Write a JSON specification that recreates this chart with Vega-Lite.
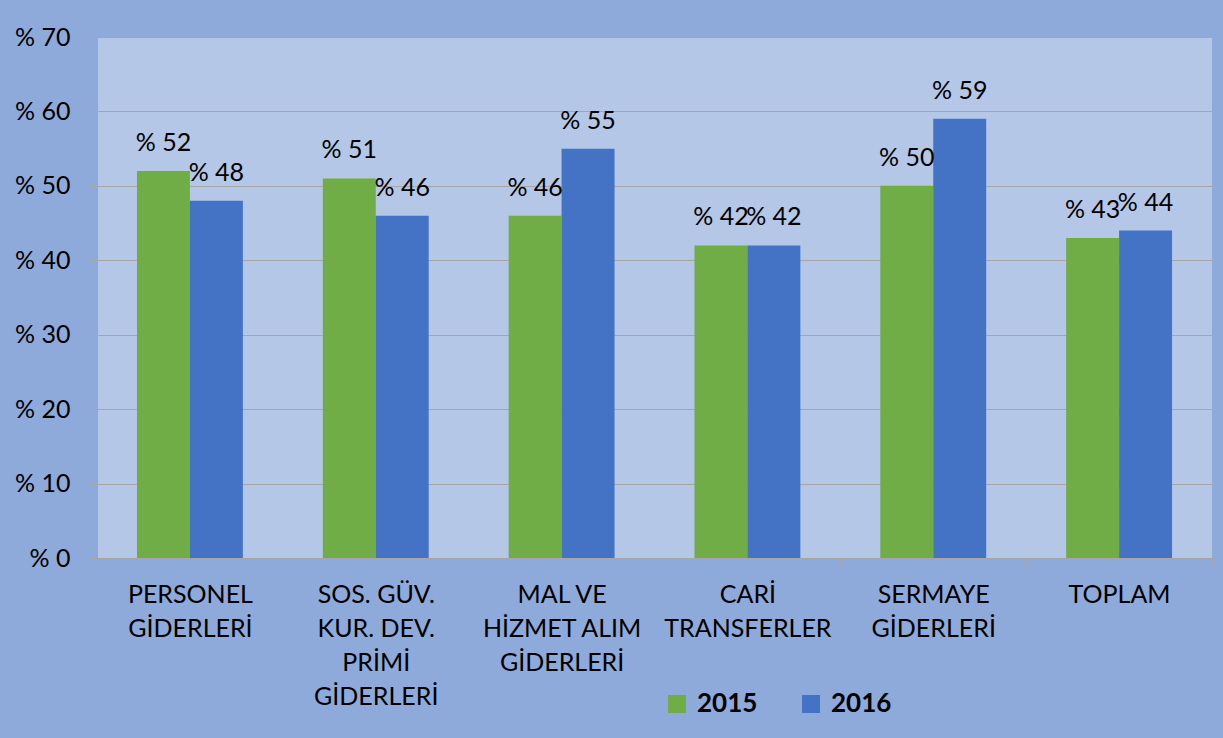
{
  "$schema": "https://vega.github.io/schema/vega-lite/v6.json",
  "autosize": "none",
  "width": 1115,
  "height": 521,
  "padding": {"left": 97, "top": 37, "right": 11, "bottom": 180},
  "background": "#8EAADB",
  "config": {
    "view": {"fill": "#B4C7E7", "stroke": null},
    "font": "Lato",
    "axis": {"labelFont": "Lato", "labelFontSize": 25, "labelColor": "#000000"}
  },
  "data": {
    "values": [
      {"kategori": "PERSONEL|GİDERLERİ", "yil": "2015", "oran": 52},
      {"kategori": "PERSONEL|GİDERLERİ", "yil": "2016", "oran": 48},
      {"kategori": "SOS. GÜV.|KUR. DEV.|PRİMİ|GİDERLERİ", "yil": "2015", "oran": 51},
      {"kategori": "SOS. GÜV.|KUR. DEV.|PRİMİ|GİDERLERİ", "yil": "2016", "oran": 46},
      {"kategori": "MAL VE|HİZMET ALIM|GİDERLERİ", "yil": "2015", "oran": 46},
      {"kategori": "MAL VE|HİZMET ALIM|GİDERLERİ", "yil": "2016", "oran": 55},
      {"kategori": "CARİ|TRANSFERLER", "yil": "2015", "oran": 42},
      {"kategori": "CARİ|TRANSFERLER", "yil": "2016", "oran": 42},
      {"kategori": "SERMAYE|GİDERLERİ", "yil": "2015", "oran": 50},
      {"kategori": "SERMAYE|GİDERLERİ", "yil": "2016", "oran": 59},
      {"kategori": "TOPLAM", "yil": "2015", "oran": 43},
      {"kategori": "TOPLAM", "yil": "2016", "oran": 44}
    ]
  },
  "transform": [{"calculate": "'% ' + datum.oran", "as": "etiket"}],
  "encoding": {
    "x": {
      "field": "kategori",
      "type": "nominal",
      "sort": null,
      "scale": {"paddingInner": 0, "paddingOuter": 0},
      "axis": {
        "title": null,
        "labelAngle": 0,
        "labelExpr": "isString(datum.value) ? split(datum.value, '|') : ''",
        "labelBaseline": "top",
        "labelLineHeight": 34,
        "labelPadding": 16,
        "labelLimit": 0,
        "tickBand": "extent",
        "tickSize": 8,
        "tickColor": "#A6A6A6",
        "domainColor": "#A6A6A6",
        "grid": false
      }
    },
    "xOffset": {
      "field": "yil",
      "type": "nominal",
      "scale": {"paddingInner": 0, "paddingOuter": 0.755}
    },
    "y": {
      "field": "oran",
      "type": "quantitative",
      "scale": {"domain": [0, 70], "nice": false},
      "axis": {
        "title": null,
        "values": [0, 10, 20, 30, 40, 50, 60, 70],
        "labelExpr": "'% ' + datum.value",
        "labelPadding": 19,
        "tickSize": 8,
        "tickColor": "#A6A6A6",
        "domainColor": "#A6A6A6",
        "gridColor": "#A6A6A6",
        "grid": true
      }
    }
  },
  "layer": [
    {
      "mark": {"type": "bar"},
      "encoding": {
        "color": {
          "field": "yil",
          "type": "nominal",
          "scale": {"domain": ["2015", "2016"], "range": ["#70AD47", "#4472C4"]},
          "legend": {
            "title": null,
            "orient": "none",
            "direction": "horizontal",
            "legendX": 567,
            "legendY": 654,
            "symbolType": "square",
            "symbolSize": 324,
            "symbolStrokeWidth": 0,
            "symbolOpacity": 1,
            "labelFont": "Lato",
            "labelFontSize": 26,
            "labelFontWeight": "bold",
            "labelColor": "#000000",
            "labelOffset": 7,
            "columnPadding": 40
          }
        }
      }
    },
    {
      "mark": {"type": "text", "baseline": "alphabetic", "dy": -20, "fontSize": 25, "font": "Lato", "color": "#000000"},
      "encoding": {"text": {"field": "etiket"}}
    }
  ]
}
